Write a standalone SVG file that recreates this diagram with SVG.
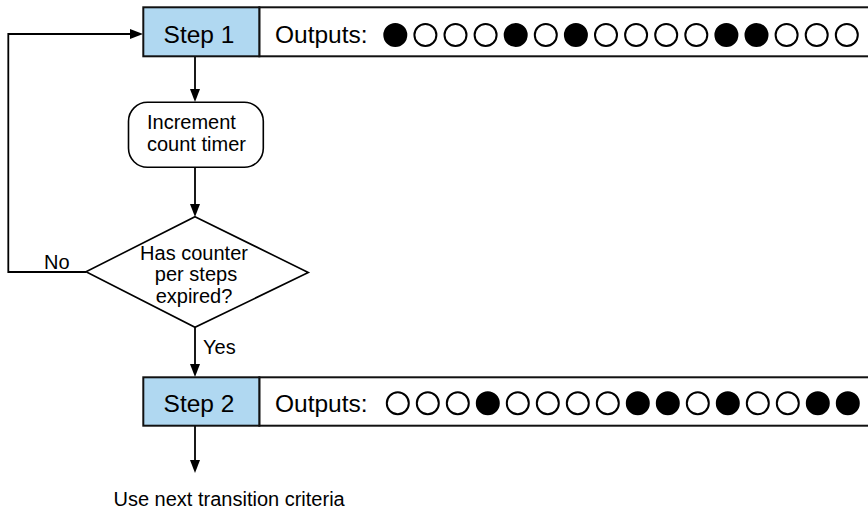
<svg xmlns="http://www.w3.org/2000/svg" width="868" height="509" viewBox="0 0 868 509">
<style>
text{font-family:"Liberation Sans",Arial,sans-serif;fill:#000}
.big{font-size:24.5px}
.mid{font-size:20px}
.step{fill:#b0d8f1;stroke:#111;stroke-width:2}
.out{fill:#fff;stroke:#111;stroke-width:2}
.on{fill:#000;stroke:#000;stroke-width:2}
.off{fill:#fff;stroke:#000;stroke-width:2}
.conn{fill:none;stroke:#000;stroke-width:1.8;marker-end:url(#arr)}
.shape{fill:#fff;stroke:#000;stroke-width:1.6}
</style>
<defs>
<marker id="arr" markerWidth="13" markerHeight="10" refX="9" refY="5" orient="auto" markerUnits="userSpaceOnUse">
<path d="M0,0 L13,5 L0,10 z" fill="#000"/>
</marker>
</defs>
<rect width="868" height="509" fill="#fff"/>
<g id="connectors">
<path class="conn" d="M195,57 V98"/>
<path class="conn" d="M195,167 V213"/>
<path class="conn" d="M86,272 H8.3 V34 H139"/>
<path class="conn" d="M195,327 V373"/>
<path class="conn" d="M195,426 V469"/>
</g>
<g id="step1">
<rect class="out" x="259.3" y="7.3" width="640" height="49"/>
<rect class="step" x="143.3" y="7.3" width="116" height="49"/>
<text class="big" x="199" y="42.7" text-anchor="middle">Step 1</text>
<text class="big" x="275" y="42.7">Outputs:</text>
<g transform="translate(395.3,35)">
<circle class="on" cx="0" cy="0" r="11"/>
<circle class="off" cx="30.1" cy="0" r="11"/>
<circle class="off" cx="60.2" cy="0" r="11"/>
<circle class="off" cx="90.3" cy="0" r="11"/>
<circle class="on" cx="120.4" cy="0" r="11"/>
<circle class="off" cx="150.5" cy="0" r="11"/>
<circle class="on" cx="180.6" cy="0" r="11"/>
<circle class="off" cx="210.7" cy="0" r="11"/>
<circle class="off" cx="240.8" cy="0" r="11"/>
<circle class="off" cx="270.9" cy="0" r="11"/>
<circle class="off" cx="301" cy="0" r="11"/>
<circle class="on" cx="331.1" cy="0" r="11"/>
<circle class="on" cx="361.2" cy="0" r="11"/>
<circle class="off" cx="391.3" cy="0" r="11"/>
<circle class="off" cx="421.4" cy="0" r="11"/>
<circle class="off" cx="451.5" cy="0" r="11"/>
</g>
</g>
<g id="increment">
<rect class="shape" x="128.5" y="102.3" width="134.8" height="65" rx="19" ry="19"/>
<text class="mid" x="147" y="129">Increment</text>
<text class="mid" x="147" y="151">count timer</text>
</g>
<g id="decision">
<polygon class="shape" points="195,216.7 308.3,272.5 195,327.3 86,271.8"/>
<text class="mid" x="194" y="259.5" text-anchor="middle">Has counter</text>
<text class="mid" x="196" y="281" text-anchor="middle">per steps</text>
<text class="mid" x="194" y="302.7" text-anchor="middle">expired?</text>
</g>
<g id="labels">
<text class="mid" x="44" y="269">No</text>
<text class="mid" x="203" y="354.3">Yes</text>
</g>
<g id="step2">
<rect class="out" x="259.3" y="377.3" width="640" height="48.4"/>
<rect class="step" x="143.3" y="377.3" width="116" height="48.4"/>
<text class="big" x="199" y="411.7" text-anchor="middle">Step 2</text>
<text class="big" x="275" y="411.7">Outputs:</text>
<g transform="translate(397.8,403.3)">
<circle class="off" cx="0" cy="0" r="11"/>
<circle class="off" cx="30" cy="0" r="11"/>
<circle class="off" cx="60" cy="0" r="11"/>
<circle class="on" cx="90" cy="0" r="11"/>
<circle class="off" cx="120" cy="0" r="11"/>
<circle class="off" cx="150" cy="0" r="11"/>
<circle class="off" cx="180" cy="0" r="11"/>
<circle class="off" cx="210" cy="0" r="11"/>
<circle class="on" cx="240" cy="0" r="11"/>
<circle class="on" cx="270" cy="0" r="11"/>
<circle class="off" cx="300" cy="0" r="11"/>
<circle class="on" cx="330" cy="0" r="11"/>
<circle class="off" cx="360" cy="0" r="11"/>
<circle class="off" cx="390" cy="0" r="11"/>
<circle class="on" cx="420" cy="0" r="11"/>
<circle class="on" cx="450" cy="0" r="11"/>
</g>
</g>
<g id="next">
<text class="mid" x="113.5" y="505.5">Use next transition criteria</text>
</g>
</svg>
